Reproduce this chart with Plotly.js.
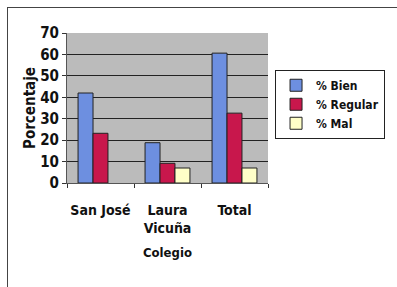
<!DOCTYPE html>
<html><head><meta charset="utf-8">
<script src="https://cdn.plot.ly/plotly-3.0.1.min.js"></script>
<style>
body{margin:0;background:#fff;}
#frame{position:absolute;left:7px;top:7px;width:400px;height:290px;border:1px solid #444;}
#chart{position:absolute;left:0;top:0;width:397px;height:287px;}
</style></head><body>
<div id="frame"></div>
<div id="chart"></div>
<script>
const categories = ["San José", "Laura<br>Vicuña", "Total"];
const bien = [42, 18.8, 60.6];
const regular = [23.2, 9.2, 32.6];
const mal = [null, 7, 7];
const seriesNames = ["% Bien", "% Regular", "% Mal"];
const colors = ["#6d8fe0", "#c8174c", "#ffffc8"];
const vals = [bien, regular, mal];
const F = "'DejaVu Sans Condensed', 'Liberation Sans', Arial, sans-serif";
const traces = vals.map((v,i)=>({
  type:'bar', x:categories, y:v, name:seriesNames[i],
  marker:{color:colors[i], line:{color:'#222', width:1}}
}));
const layout = {
  width:397, height:287,
  margin:{l:67, r:95, t:33, b:104},
  paper_bgcolor:'rgba(0,0,0,0)', plot_bgcolor:'#bbbbbb',
  barmode:'group', bargap:0.33, bargroupgap:0,
  font:{family:F, color:'#111', size:13},
  showlegend:true,
  legend:{x:1.035, y:0.755, xanchor:'left', yanchor:'top', bgcolor:'#fff',
    bordercolor:'#222', borderwidth:1, font:{family:F, size:12, color:'#111', weight:'bold'},
    itemwidth:30, tracegroupgap:0},
  xaxis:{type:'category', tickson:'boundaries', ticks:'outside', ticklen:4, tickcolor:'#333',
    showline:true, linecolor:'#555', linewidth:1, tickangle:0, ticklabelstandoff:14,
    tickfont:{family:F, size:14, weight:'bold'},
    title:{text:'Colegio', font:{family:F, size:13, weight:'bold'}, standoff:12}},
  yaxis:{range:[0,70], dtick:10, ticks:'outside', ticklen:4, tickcolor:'#333',
    showline:true, linecolor:'#555', gridcolor:'#222', gridwidth:1,
    tickfont:{family:F, size:15, weight:'bold'},
    title:{text:'Porcentaje', font:{family:F, size:15, weight:'bold'}, standoff:0}}
};
Plotly.newPlot('chart', traces, layout, {displayModeBar:false, staticPlot:true});
</script></body></html>
